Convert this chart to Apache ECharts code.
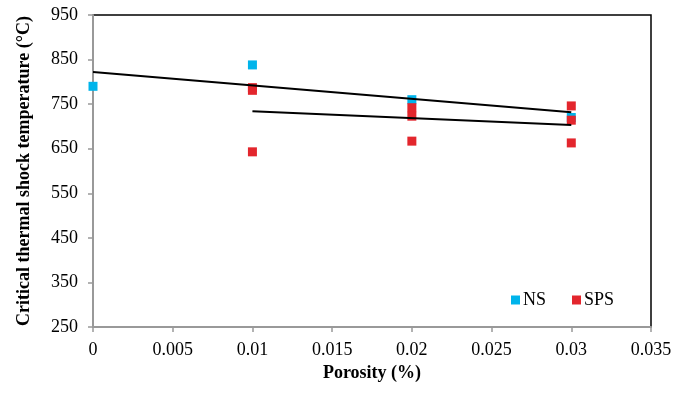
<!DOCTYPE html>
<html><head><meta charset="utf-8">
<script src="https://cdn.jsdelivr.net/npm/echarts@6/dist/echarts.min.js"></script>
<style>html,body{margin:0;padding:0;background:#fff}#c{width:689px;height:394px}</style>
</head><body><div id="c"></div>
<script>
const nsX = [0, 0.01, 0.02, 0.03];
const nsY = [790, 838, 760, 720];
const spsX = [0.01, 0.01, 0.01, 0.02, 0.02, 0.02, 0.03, 0.03, 0.03];
const spsY = [787, 781, 643, 742, 723, 667, 746, 714, 663];
const nsTrendX = [0, 0.03];
const nsTrendY = [822, 732];
const spsTrendX = [0.01, 0.03];
const spsTrendY = [734, 703];
const xTitle = 'Porosity (%)';
const yTitle = 'Critical thermal shock temperature (°C)';

const zip = (a, b) => a.map((v, i) => [v, b[i]]);
const font = 'Liberation Serif, Times New Roman, serif';
const chart = echarts.init(document.getElementById('c'));
chart.setOption({
  animation: false,
  textStyle: { fontFamily: font },
  grid: { left: 93, right: 38, top: 15, bottom: 67, show: true, borderColor: '#000', borderWidth: 1.5 },
  legend: {
    data: ['NS', 'SPS'], left: 506, top: 286, icon: 'rect', itemWidth: 9, itemHeight: 9, itemGap: 26,
    textStyle: { fontFamily: font, fontSize: 18, color: '#000', padding: [0, 0, 0, -2] }
  },
  xAxis: {
    type: 'value', min: 0, max: 0.035, interval: 0.005,
    name: xTitle, nameLocation: 'middle', nameGap: 37,
    nameTextStyle: { fontFamily: font, fontWeight: 'bold', fontSize: 18, color: '#000' },
    axisLine: { show: true, lineStyle: { color: '#999', width: 2 } },
    axisTick: { show: true, length: 5, lineStyle: { color: '#999', width: 1.5 } },
    axisLabel: { fontFamily: font, fontSize: 18, color: '#000', margin: 14 },
    splitLine: { show: false }
  },
  yAxis: {
    type: 'value', min: 250, max: 950, interval: 100,
    name: yTitle, nameLocation: 'middle', nameGap: 60,
    nameTextStyle: { fontFamily: font, fontWeight: 'bold', fontSize: 18, color: '#000' },
    axisLine: { show: true, lineStyle: { color: '#999', width: 2 } },
    axisTick: { show: true, length: 5, lineStyle: { color: '#999', width: 1.5 } },
    axisLabel: { fontFamily: font, fontSize: 18, color: '#000', margin: 15 },
    splitLine: { show: false }
  },
  series: [
    { name: 'NS', type: 'scatter', symbol: 'rect', symbolSize: 9, itemStyle: { color: '#00B4EB', opacity: 1 }, data: zip(nsX, nsY), z: 3 },
    { name: 'SPS', type: 'scatter', symbol: 'rect', symbolSize: 9, itemStyle: { color: '#E3262D', opacity: 1 }, data: zip(spsX, spsY), z: 4 },
    { name: 'NS trend', type: 'line', symbol: 'none', lineStyle: { color: '#000', width: 2 }, data: zip(nsTrendX, nsTrendY), z: 5 },
    { name: 'SPS trend', type: 'line', symbol: 'none', lineStyle: { color: '#000', width: 2 }, data: zip(spsTrendX, spsTrendY), z: 5 }
  ]
});
</script></body></html>
